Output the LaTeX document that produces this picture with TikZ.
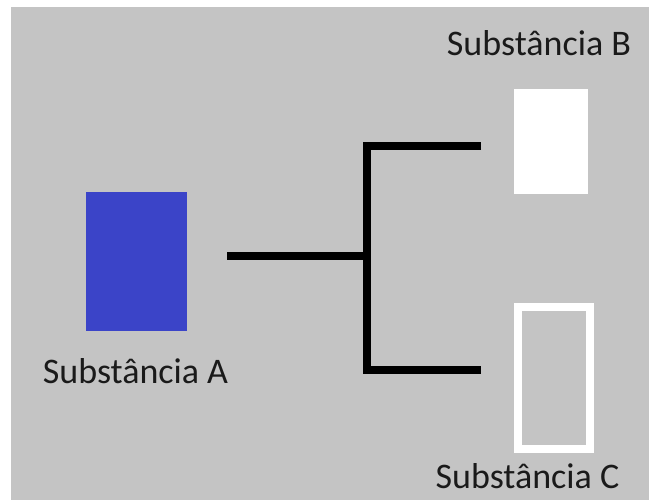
\documentclass[tikz,border=0pt]{standalone}
\usepackage{fontspec}
\setmainfont{Carlito}
\definecolor{bg}{HTML}{C4C4C4}
\definecolor{blueA}{HTML}{3B44C8}
\definecolor{txt}{HTML}{1A1A1A}
\tikzset{
  lbl/.style={font=\fontsize{36}{42}\selectfont, text=txt, inner sep=0pt, anchor=base},
  link/.style={line width=8pt, black},
}
\begin{document}
\begin{tikzpicture}[x=1pt,y=-1pt]
\useasboundingbox (0,0) rectangle (649,500);
\fill[white] (0,0) rectangle (649,500);
\fill[bg] (11,7) rectangle (649,500);
% boxes
\node[fill=blueA, minimum width=101pt, minimum height=139pt, inner sep=0pt] (A) at (136.5,261.5) {};
\node[fill=white, minimum width=74pt, minimum height=105pt, inner sep=0pt] (B) at (551,141.5) {};
\node[draw=white, line width=8pt, minimum width=72.5pt, minimum height=141.5pt, inner sep=0pt] (C) at (553.75,378.25) {};
% labels
\node[lbl] (LA) at (135.5,384) {Substância A};
\node[lbl] (LB) at (539,56) {Substância B};
\node[lbl] (LC) at (527.5,488) {Substância C};
% connectors
\coordinate (s) at (227,256.5);
\coordinate (j) at (366.5,256.5);
\coordinate (jt) at (366.5,146.5);
\coordinate (jb) at (366.5,369.5);
\coordinate (eb) at (481,146.5);
\coordinate (ec) at (481,369.5);
\draw[link] (s) -- (j);
\draw[link] (eb) -- (jt) -- (jb) -- (ec);
\end{tikzpicture}
\end{document}
